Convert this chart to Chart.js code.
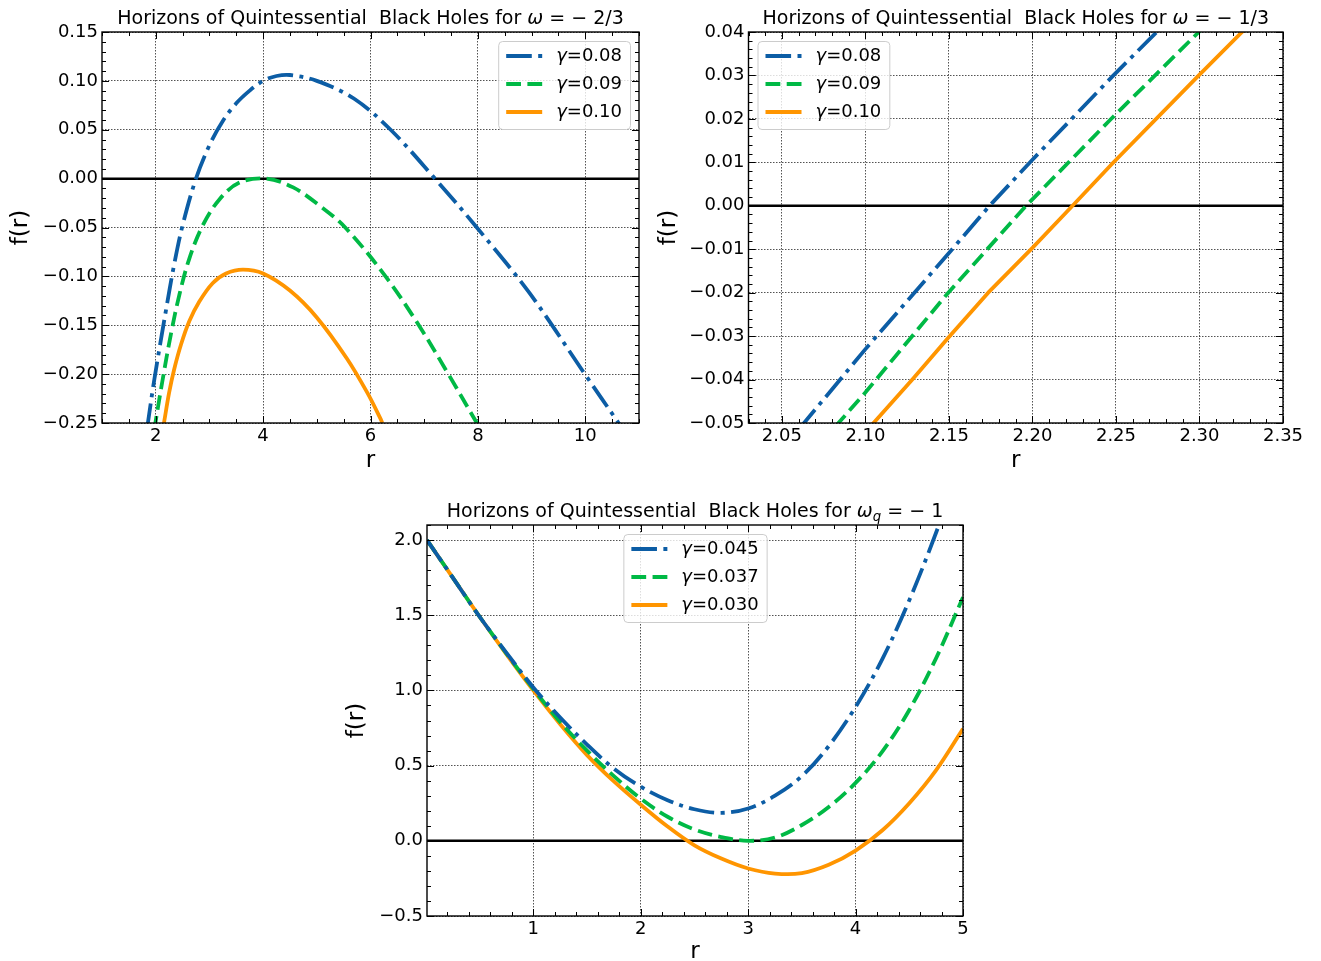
<!DOCTYPE html>
<html><head><meta charset="utf-8">
<script src="https://cdn.jsdelivr.net/npm/chart.js@4.4.1/dist/chart.umd.min.js"></script>
<style>
html,body{margin:0;padding:0;background:#fff}
body{width:1321px;height:961px;position:relative;overflow:hidden}
canvas{position:absolute}
</style></head><body>
<canvas id="c1" width="650" height="475" style="left:0;top:0"></canvas>
<canvas id="c2" width="671" height="475" style="left:650px;top:0"></canvas>
<canvas id="c3" width="660" height="481" style="left:330px;top:480px"></canvas>
<script>
// ---------- DATA ----------
// Panel 1: omega = -2/3
const p1_r_008 = [1.84, 1.86, 1.97, 2.19, 2.34, 2.5, 2.75, 3.0, 3.25, 3.5, 3.75, 4.0, 4.25, 4.5, 5.0, 5.69, 6.375, 7.2, 7.98, 8.96, 9.98, 10.62, 10.7];
const p1_f_008 = [-0.256, -0.248, -0.207, -0.135, -0.089, -0.048, 0.0, 0.034, 0.059, 0.077, 0.090, 0.100, 0.105, 0.106, 0.100, 0.082, 0.050, 0.0, -0.050, -0.117, -0.199, -0.25, -0.256];
const p1_r_009 = [1.97, 2.0, 2.125, 2.28, 2.44, 2.625, 2.875, 3.19, 3.56, 4.05, 4.56, 5.06, 5.53, 6.28, 6.9, 7.45, 7.98, 8.05];
const p1_f_009 = [-0.258, -0.248, -0.207, -0.16, -0.119, -0.082, -0.048, -0.021, -0.004, 0.0, -0.009, -0.028, -0.05, -0.1, -0.15, -0.2, -0.25, -0.256];
const p1_r_010 = [2.14, 2.16, 2.25, 2.34, 2.47, 2.625, 2.81, 3.06, 3.31, 3.625, 4.0, 4.5, 5.0, 5.56, 5.94, 6.19, 6.22];
const p1_f_010 = [-0.255, -0.248, -0.219, -0.196, -0.170, -0.146, -0.126, -0.107, -0.097, -0.093, -0.097, -0.1145, -0.142, -0.184, -0.219, -0.246, -0.250];
const p1_xTicks = [2, 4, 6, 8, 10];
const p1_yTicks = [-0.25, -0.20, -0.15, -0.10, -0.05, 0.00, 0.05, 0.10, 0.15];

// Panel 2: omega = -1/3
const p2_r_008 = [2.060, 2.10, 2.1526, 2.1743, 2.20, 2.2479, 2.2744, 2.28];
const p2_f_008 = [-0.0515, -0.033, -0.0097, 0.0, 0.0106, 0.0298, 0.04, 0.0423];
const p2_r_009 = [2.082, 2.0997, 2.1496, 2.1962, 2.2466, 2.2996, 2.305];
const p2_f_009 = [-0.0508, -0.0431, -0.02, 0.0, 0.0198, 0.04, 0.042];
const p2_r_010 = [2.103, 2.1281, 2.1496, 2.1735, 2.2, 2.224, 2.248, 2.2996, 2.3255, 2.33];
const p2_f_010 = [-0.0508, -0.04, -0.0304, -0.02, -0.0097, 0.0, 0.0098, 0.03, 0.04, 0.042];
const p2_xTicks = [2.05, 2.10, 2.15, 2.20, 2.25, 2.30, 2.35];
const p2_yTicks = [-0.05, -0.04, -0.03, -0.02, -0.01, 0.00, 0.01, 0.02, 0.03, 0.04];

// Panel 3: omega_q = -1
const p3_r = [0.01, 0.25, 0.5, 0.75, 1.0, 1.25, 1.5, 1.75, 2.0, 2.25, 2.5, 2.75, 3.0, 3.25, 3.5, 3.75, 4.0, 4.25, 4.5, 4.75, 5.0];
const p3_f_0045 = [2.0, 1.75, 1.49, 1.25, 1.02, 0.82, 0.64, 0.48, 0.36, 0.27, 0.21, 0.186, 0.215, 0.30, 0.43, 0.63, 0.89, 1.21, 1.60, 2.05, 2.55];
const p3_f_0037 = [2.0, 1.75, 1.49, 1.245, 1.01, 0.79, 0.60, 0.43, 0.28, 0.16, 0.075, 0.025, 0.0, 0.022, 0.105, 0.225, 0.385, 0.595, 0.87, 1.215, 1.62];
const p3_f_0030 = [2.0, 1.75, 1.49, 1.24, 1.0, 0.775, 0.57, 0.395, 0.24, 0.095, -0.03, -0.118, -0.184, -0.218, -0.215, -0.16, -0.065, 0.07, 0.25, 0.47, 0.745];
const p3_xTicks = [1, 2, 3, 4, 5];
const p3_yTicks = [-0.5, 0.0, 0.5, 1.0, 1.5, 2.0];

// ---------- STYLE ----------
const BLUE = '#0C5DA5', GREEN = '#00B945', ORANGE = '#FF9500';
const LW = 3.8;
const DASHDOT = [25.6, 6.4, 4, 6.4];
const DASHED = [14.8, 6.4];
const FONT = "'DejaVu Sans', sans-serif";
Chart.defaults.font.family = FONT;
Chart.defaults.color = '#000';

const fmt = (v, d) => (v < -1e-12 ? '\u2212' : '') + Math.abs(v).toFixed(d);

function ds(label, r, f, color, dash, smooth) {
  return {
    label, data: r.map((x, i) => ({x, y: f[i]})),
    borderColor: color, borderWidth: LW, borderDash: dash,
    pointRadius: 0, fill: false, clip: 0,
    tension: smooth ? 0.35 : 0, cubicInterpolationMode: 'default',
    capBezierPoints: false, borderCapStyle: 'butt', borderJoinStyle: 'round'
  };
}

function minors(min, max, step, majors) {
  const out = [];
  const n0 = Math.ceil(min / step - 1e-6), n1 = Math.floor(max / step + 1e-6);
  for (let n = n0; n <= n1; n++) {
    const v = n * step;
    if (!majors.some(m => Math.abs(m - v) < step * 1e-3)) out.push(v);
  }
  return out;
}

const mplPlugin = {
  id: 'mpl',
  beforeDatasetsDraw(chart) {
    const {ctx, chartArea: a} = chart;
    const py = chart.scales.y.getPixelForValue(0);
    ctx.save();
    ctx.beginPath(); ctx.rect(a.left, a.top, a.right - a.left, a.bottom - a.top); ctx.clip();
    ctx.strokeStyle = '#000'; ctx.lineWidth = 2.5;
    ctx.beginPath(); ctx.moveTo(a.left, py); ctx.lineTo(a.right, py); ctx.stroke();
    ctx.restore();
  },
  afterDraw(chart) {
    const o = chart.options.plugins.mpl;
    const {ctx, chartArea: a} = chart;
    const xs = chart.scales.x, ys = chart.scales.y;
    ctx.save();
    ctx.strokeStyle = '#000'; ctx.lineWidth = 1; ctx.setLineDash([]);
    const xt = (vals, len) => {
      ctx.beginPath();
      vals.forEach(v => {
        const p = Math.round(xs.getPixelForValue(v)) + 0.5;
        ctx.moveTo(p, a.bottom); ctx.lineTo(p, a.bottom - len);
        ctx.moveTo(p, a.top); ctx.lineTo(p, a.top + len);
      });
      ctx.stroke();
    };
    const yt = (vals, len) => {
      ctx.beginPath();
      vals.forEach(v => {
        const p = Math.round(ys.getPixelForValue(v)) + 0.5;
        ctx.moveTo(a.left, p); ctx.lineTo(a.left + len, p);
        ctx.moveTo(a.right, p); ctx.lineTo(a.right - len, p);
      });
      ctx.stroke();
    };
    xt(o.xMajor, 7); yt(o.yMajor, 7);
    xt(minors(xs.min, xs.max, o.xMinor, o.xMajor), 4);
    yt(minors(ys.min, ys.max, o.yMinor, o.yMajor), 4);
    ctx.lineWidth = 1.4;
    ctx.strokeRect(a.left, a.top, a.right - a.left, a.bottom - a.top);

    // title
    const tsz = 19;
    const parts = o.title;
    const fontOf = p => (p.it ? 'italic ' : '') + (p.sub ? tsz * 0.7 : tsz) + 'px ' + FONT;
    let total = 0;
    parts.forEach(p => { ctx.font = fontOf(p); total += ctx.measureText(p.t).width; });
    let x = (a.left + a.right) / 2 - total / 2;
    const by = a.top - 8;
    ctx.fillStyle = '#000'; ctx.textBaseline = 'alphabetic'; ctx.textAlign = 'left';
    parts.forEach(p => {
      ctx.font = fontOf(p);
      ctx.fillText(p.t, x, by + (p.sub ? 4 : 0));
      x += ctx.measureText(p.t).width;
    });

    // legend
    const L = o.legend;
    const lsz = 18;
    const dsets = chart.data.datasets;
    let tw = 0;
    dsets.forEach(d => {
      ctx.font = 'italic ' + lsz + 'px ' + FONT; let w = ctx.measureText('\u03b3').width;
      ctx.font = lsz + 'px ' + FONT; w += ctx.measureText(d.label.slice(1)).width;
      tw = Math.max(tw, w);
    });
    const bw = 8 + 36 + 14 + tw + 8, bh = 88;
    let bx;
    if (L === 'right') bx = a.right - 9 - bw;
    else if (L === 'left') bx = a.left + 9;
    else bx = (a.left + a.right) / 2 - bw / 2;
    const bt = a.top + 9;
    ctx.beginPath();
    if (ctx.roundRect) ctx.roundRect(bx + 0.5, bt + 0.5, bw, bh, 4); else ctx.rect(bx + 0.5, bt + 0.5, bw, bh);
    ctx.fillStyle = 'rgba(255,255,255,0.8)'; ctx.fill();
    ctx.strokeStyle = '#cccccc'; ctx.lineWidth = 1; ctx.stroke();
    dsets.forEach((d, i) => {
      const cy = bt + 15 + i * 28;
      ctx.save();
      ctx.strokeStyle = d.borderColor; ctx.lineWidth = d.borderWidth; ctx.lineCap = 'butt';
      ctx.setLineDash(d.borderDash || []);
      ctx.beginPath(); ctx.moveTo(bx + 8, cy); ctx.lineTo(bx + 44, cy); ctx.stroke();
      ctx.restore();
      ctx.fillStyle = '#000'; ctx.textBaseline = 'middle'; ctx.textAlign = 'left';
      let tx = bx + 58;
      ctx.font = 'italic ' + lsz + 'px ' + FONT; ctx.fillText('\u03b3', tx, cy);
      tx += ctx.measureText('\u03b3').width;
      ctx.font = lsz + 'px ' + FONT; ctx.fillText(d.label.slice(1), tx, cy);
    });
    ctx.restore();
  }
};

function makeChart(id, cfg) {
  const xTicks = cfg.xTicks, yTicks = cfg.yTicks;
  return new Chart(document.getElementById(id), {
    type: 'line',
    data: {datasets: cfg.datasets},
    plugins: [mplPlugin],
    options: {
      responsive: false, animation: false, events: [],
      layout: {padding: {top: cfg.padTop, right: cfg.padRight, left: 0, bottom: 0}},
      plugins: {
        legend: {display: false}, tooltip: {enabled: false}, title: {display: false},
        mpl: {title: cfg.title, legend: cfg.legend, xMajor: xTicks, yMajor: yTicks, xMinor: cfg.xMinor, yMinor: cfg.yMinor}
      },
      scales: {
        x: {
          type: 'linear', position: 'bottom', min: cfg.xMin, max: cfg.xMax,
          afterBuildTicks: s => { s.ticks = xTicks.map(v => ({value: v})); },
          afterFit: s => { s.height = cfg.xHeight; },
          ticks: {autoSkip: false, maxRotation: 0, padding: 3, font: {size: 18}, color: '#000',
                  callback: v => fmt(v, cfg.xDec)},
          grid: {color: 'rgba(0,0,0,0.85)', lineWidth: 0.8, drawTicks: false},
          border: {display: false, dash: [1.5, 1.5]},
          title: {display: true, text: 'r', font: {size: 23, lineHeight: 1}, color: '#000', padding: {top: 0, bottom: cfg.xTitlePad}}
        },
        y: {
          type: 'linear', position: 'left', min: cfg.yMin, max: cfg.yMax,
          afterBuildTicks: s => { s.ticks = yTicks.map(v => ({value: v})); },
          afterFit: s => { s.width = cfg.yWidth; },
          ticks: {autoSkip: false, padding: 4, font: {size: 18}, color: '#000',
                  callback: v => fmt(v, cfg.yDec)},
          grid: {color: 'rgba(0,0,0,0.85)', lineWidth: 0.8, drawTicks: false},
          border: {display: false, dash: [1.5, 1.5]},
          title: {display: true, text: 'f(r)', font: {size: 23, lineHeight: 1}, color: '#000', padding: {top: cfg.yTitlePad, bottom: 0}}
        }
      }
    }
  });
}

makeChart('c1', {
  datasets: [
    ds('\u03b3=0.08', p1_r_008, p1_f_008, BLUE, DASHDOT, true),
    ds('\u03b3=0.09', p1_r_009, p1_f_009, GREEN, DASHED, true),
    ds('\u03b3=0.10', p1_r_010, p1_f_010, ORANGE, [], true)
  ],
  xTicks: p1_xTicks, yTicks: p1_yTicks, xMin: 1, xMax: 11, yMin: -0.25, yMax: 0.15,
  xDec: 0, yDec: 2, xMinor: 0.5, yMinor: 0.01,
  padTop: 32, padRight: 11, xHeight: 52, yWidth: 102, xTitlePad: 2, yTitlePad: 10,
  legend: 'right',
  title: [{t: 'Horizons of Quintessential  Black Holes for '}, {t: '\u03c9', it: true}, {t: ' = \u2212 2/3'}]
});

makeChart('c2', {
  datasets: [
    ds('\u03b3=0.08', p2_r_008, p2_f_008, BLUE, DASHDOT, false),
    ds('\u03b3=0.09', p2_r_009, p2_f_009, GREEN, DASHED, false),
    ds('\u03b3=0.10', p2_r_010, p2_f_010, ORANGE, [], false)
  ],
  xTicks: p2_xTicks, yTicks: p2_yTicks, xMin: 2.03, xMax: 2.35, yMin: -0.05, yMax: 0.04,
  xDec: 2, yDec: 2, xMinor: 0.01, yMinor: 0.002,
  padTop: 32, padRight: 38, xHeight: 52, yWidth: 98.5, xTitlePad: 2, yTitlePad: 8,
  legend: 'left',
  title: [{t: 'Horizons of Quintessential  Black Holes for '}, {t: '\u03c9', it: true}, {t: ' = \u2212 1/3'}]
});

makeChart('c3', {
  datasets: [
    ds('\u03b3=0.045', p3_r, p3_f_0045, BLUE, DASHDOT, true),
    ds('\u03b3=0.037', p3_r, p3_f_0037, GREEN, DASHED, true),
    ds('\u03b3=0.030', p3_r, p3_f_0030, ORANGE, [], true)
  ],
  xTicks: p3_xTicks, yTicks: p3_yTicks, xMin: 0.01, xMax: 5, yMin: -0.5, yMax: 2.1,
  xDec: 0, yDec: 1, xMinor: 0.2, yMinor: 0.1,
  padTop: 45, padRight: 27, xHeight: 45, yWidth: 97, xTitlePad: -3, yTitlePad: 16,
  legend: 'center',
  title: [{t: 'Horizons of Quintessential  Black Holes for '}, {t: '\u03c9', it: true}, {t: 'q', it: true, sub: true}, {t: ' = \u2212 1'}]
});
</script>
</body></html>
